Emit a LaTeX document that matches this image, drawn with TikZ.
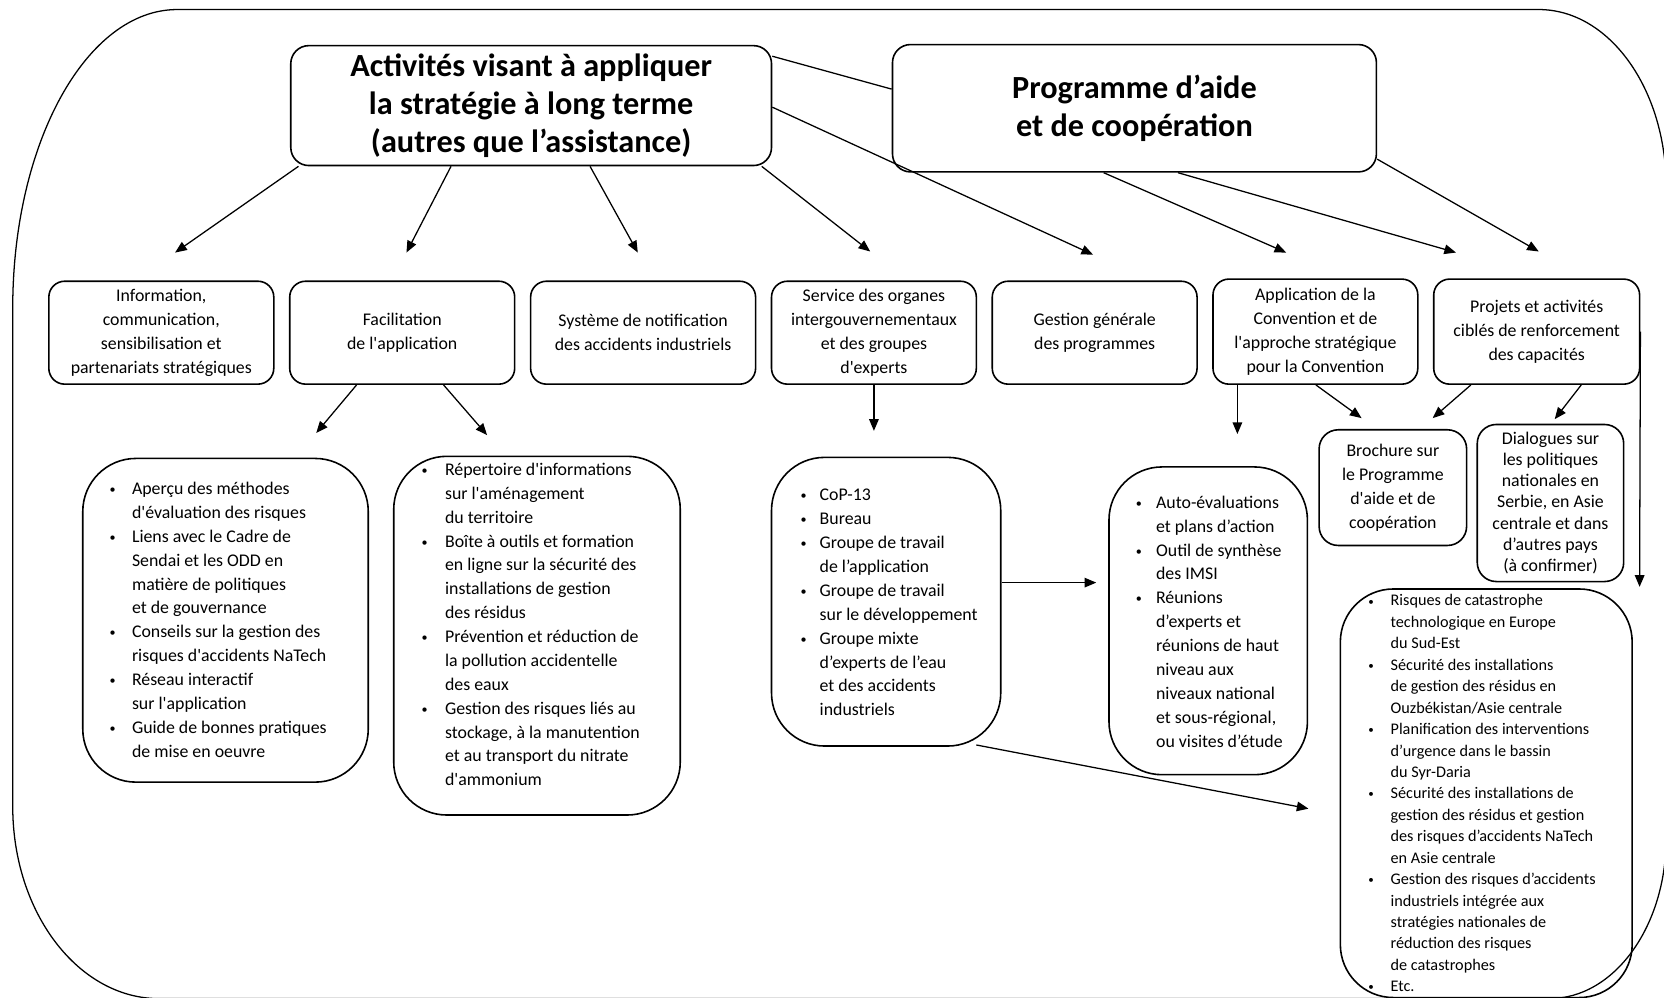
\documentclass[tikz,border=0pt]{standalone}
\usepackage{fontspec}
\usepackage{graphicx}
\setmainfont{Carlito}[Ligatures=TeXOff]
\usetikzlibrary{arrows.meta}
\newlength\bhang
\newcommand\bodyf{\fontsize{8.4pt}{11.25pt}\selectfont}
\newcommand\smallf{\fontsize{7.64pt}{10.1pt}\selectfont}
\newcommand\dialf{\fontsize{8.4pt}{10pt}\selectfont}
\newcommand\titlef{\fontsize{15.2pt}{18pt}\selectfont\bfseries}
\newcommand\sbul{\raisebox{0.12ex}{\scalebox{0.68}{\textbullet}}}
\newcommand\itm[1]{\par\hangindent=\bhang\hangafter=1\noindent\makebox[\bhang][l]{\hspace{0.5pt}\sbul}#1\par}
\newcommand\blist[3]{\begin{minipage}[t]{170pt}#2\setlength\bhang{#1}\parindent=0pt\parskip=0pt #3\end{minipage}}
\begin{document}
\begin{tikzpicture}[x=0.5pt,y=-0.5pt,
  box/.style={draw,line width=0.75pt,rounded corners=7.5pt,align=center,inner sep=0pt,font=\bodyf},
  big/.style={draw,line width=0.75pt,rounded corners=25pt,inner sep=0pt},
  lst/.style={anchor=base west,inner sep=0pt},
  ln/.style={line width=0.6pt},
  arr/.style={line width=0.6pt,-{Triangle[length=5.5pt,width=4.5pt]}}]
\useasboundingbox (0,0) rectangle (1568,940);
\clip (0,0) rectangle (1568,940);
% outer border
\draw[line width=0.6pt] (12,290) .. controls (12,134.8) and (81.4,9) .. (167,9)
  -- (1450,9) .. controls (1516.3,9) and (1570,83.8) .. (1570,176)
  -- (1570,790) .. controls (1570,873.4) and (1520.8,941) .. (1460,941)
  -- (150,941) .. controls (73.8,941) and (12,860) .. (12,760) -- cycle;
% top boxes
\node[box,rounded corners=8.5pt,minimum width=226.5pt,minimum height=56.5pt,font=\titlef] (A) at (500.5,99.5)
  {Activités visant à appliquer\\la stratégie à long terme\\(autres que l’assistance)};
\node[box,rounded corners=8.5pt,minimum width=228pt,minimum height=60pt,font=\titlef] (P) at (1069,102)
  {Programme d’aide\\et de coopération};
% row 2
\node[box,minimum width=106pt,minimum height=48.5pt] (info) at (152,313.5)
  {Information,\\communication,\\sensibilisation et\\partenariats stratégiques};
\node[box,minimum width=106pt,minimum height=48.5pt] (fac) at (379,313.5)
  {Facilitation\\de l'application};
\node[box,minimum width=106pt,minimum height=48.5pt] (sys) at (606,313.5)
  {Système de notification\\des accidents industriels};
\node[box,minimum width=96.5pt,minimum height=48.5pt] (serv) at (823.5,313.5)
  {Service des organes\\intergouvernementaux\\et des groupes\\d'experts};
\node[box,minimum width=96.5pt,minimum height=48.5pt] (gest) at (1031.5,313.5)
  {Gestion générale\\des programmes};
\node[box,minimum width=96.5pt,minimum height=49.5pt] (app) at (1239.5,312.5)
  {Application de la\\Convention et de\\l'approche stratégique\\pour la Convention};
\node[box,minimum width=97pt,minimum height=49.5pt] (proj) at (1448,312.5)
  {Projets et activités\\ciblés de renforcement\\des capacités};
% row 3
\node[big,minimum width=134.5pt,minimum height=152.5pt] (L1) at (212.5,584.5) {};
\node[lst] (L1t) at (102,466) {\blist{11pt}{\bodyf}{%
  \itm{Aperçu des méthodes\newline d'évaluation des risques}
  \itm{Liens avec le Cadre de\newline Sendai et les ODD en\newline matière de politiques\newline et de gouvernance}
  \itm{Conseils sur la gestion des\newline risques d'accidents NaTech}
  \itm{Réseau interactif\newline sur l'application}
  \itm{Guide de bonnes pratiques\newline de mise en oeuvre}}};
\node[big,minimum width=135pt,minimum height=169pt] (L2) at (506,599) {};
\node[lst] (L2t) at (396,448) {\blist{11.5pt}{\bodyf}{%
  \itm{Répertoire d'informations\newline sur l'aménagement\newline du territoire}
  \itm{Boîte à outils et formation\newline en ligne sur la sécurité des\newline installations de gestion\newline des résidus}
  \itm{Prévention et réduction de\newline la pollution accidentelle\newline des eaux}
  \itm{Gestion des risques liés au\newline stockage, à la manutention\newline et au transport du nitrate\newline d'ammonium}}};
\node[big,minimum width=108pt,minimum height=136pt] (cop) at (835,567) {};
\node[lst] (copt) at (753,472) {\blist{9.5pt}{\bodyf}{%
  \itm{CoP-13}
  \itm{Bureau}
  \itm{Groupe de travail\newline de l’application}
  \itm{Groupe de travail\newline sur le développement}
  \itm{Groupe mixte\newline d’experts de l’eau\newline et des accidents\newline industriels}}};
\node[big,minimum width=93.5pt,minimum height=145pt] (auto) at (1138.5,585) {};
\node[lst] (autot) at (1069,479) {\blist{10pt}{\bodyf}{%
  \itm{Auto-évaluations\newline et plans d’action}
  \itm{Outil de synthèse\newline des IMSI}
  \itm{Réunions\newline d’experts et\newline réunions de haut\newline niveau aux\newline niveaux national\newline et sous-régional,\newline ou visites d’étude}}};
\node[box,rounded corners=9pt,minimum width=69.5pt,minimum height=54.5pt] (broch) at (1312.5,459.5)
  {Brochure sur\\le Programme\\d'aide et de\\coopération};
\node[box,rounded corners=9pt,minimum width=69pt,minimum height=74pt,font=\dialf] (dial) at (1461,474)
  {Dialogues sur\\les politiques\\nationales en\\Serbie, en Asie\\centrale et dans\\d’autres pays\\(à confirmer)};
\node[big,minimum width=137.5pt,minimum height=192.5pt] (R) at (1400.5,747.5) {};
\node[lst] (Rt) at (1288,571) {\blist{11pt}{\smallf}{%
  \itm{Risques de catastrophe\newline technologique en Europe\newline du Sud-Est}
  \itm{Sécurité des installations\newline de gestion des résidus en\newline Ouzbékistan/Asie centrale}
  \itm{Planification des interventions\newline d’urgence dans le bassin\newline du Syr-Daria}
  \itm{Sécurité des installations de\newline gestion des résidus et gestion\newline des risques d’accidents NaTech\newline en Asie centrale}
  \itm{Gestion des risques d’accidents\newline industriels intégrée aux\newline stratégies nationales de\newline réduction des risques\newline de catastrophes}
  \itm{Etc.}}};
% free ends of connectors
\coordinate (e1) at (165,238);
\coordinate (e2) at (383,238);
\coordinate (e3) at (601,238);
\coordinate (e4) at (820,237);
\coordinate (e5) at (1030,240);
\coordinate (e6) at (1212,238);
\coordinate (e7) at (1372,238);
\coordinate (e8) at (1450,237);
\coordinate (e9) at (298,408);
\coordinate (e10) at (459,410);
\coordinate (e11) at (823.5,406);
\coordinate (e12) at (1166,409);
\coordinate (e13) at (1283,394);
\coordinate (e14) at (1350,394);
\coordinate (e15) at (1465,395);
\coordinate (e16) at (1545,553);
\coordinate (e17) at (1033,549);
\coordinate (e18) at (1233,762);
% connectors
\draw[ln] (A.east |- 0,53) -- (P.west |- 0,84);
\draw[arr] ([xshift=4pt]A.south west) -- (e1);
\draw[arr] (425,0 |- A.south) -- (e2);
\draw[arr] (556,0 |- A.south) -- (e3);
\draw[arr] ([xshift=-5pt]A.south east) -- (e4);
\draw[arr] (A.east |- 0,101) -- (e5);
\draw[arr] (1040,0 |- P.south) -- (e6);
\draw[arr] (1110,0 |- P.south) -- (e7);
\draw[arr] (P.east |- 0,150) -- (e8);
\draw[arr] (336,0 |- fac.south) -- (e9);
\draw[arr] (418,0 |- fac.south) -- (e10);
\draw[arr] (serv.south) -- (e11);
\draw[arr] (1166,0 |- app.south) -- (e12);
\draw[arr] (1240,0 |- app.south) -- (e13);
\draw[arr] (1386,0 |- proj.south) -- (e14);
\draw[arr] (1490,0 |- proj.south) -- (e15);
\draw[arr] (proj.east) -- (e16);
\draw[arr] (cop.east |- 0,549) -- (e17);
\draw[arr] (920,702) -- (e18);
\end{tikzpicture}
\end{document}
